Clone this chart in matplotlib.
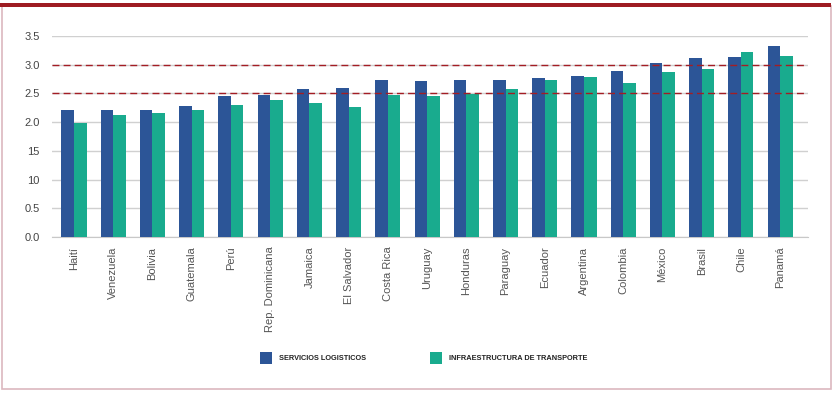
import matplotlib.pyplot as plt
import numpy as np
from matplotlib.patches import Rectangle

paises = ["Haití", "Venezuela", "Bolivia", "Guatemala", "Perú", "Rep. Dominicana",
          "Jamaica", "El Salvador", "Costa Rica", "Uruguay", "Honduras", "Paraguay",
          "Ecuador", "Argentina", "Colombia", "México", "Brasil", "Chile", "Panamá"]
servicios = [2.21, 2.21, 2.21, 2.28, 2.46, 2.48, 2.57, 2.59, 2.74, 2.72, 2.73, 2.74,
             2.77, 2.81, 2.89, 3.03, 3.11, 3.13, 3.32]
infraestructura = [1.99, 2.12, 2.16, 2.21, 2.30, 2.38, 2.34, 2.27, 2.48, 2.46, 2.49, 2.57,
                   2.73, 2.79, 2.68, 2.88, 2.93, 3.23, 3.16]
ytick_vals = [0.0, 0.5, 1.0, 1.5, 2.0, 2.5, 3.0, 3.5]
ytick_labels = ["0.0", "0.5", "10", "15", "2.0", "2.5", "3.0", "3.5"]
series_names = ["SERVICIOS LOGISTICOS", "INFRAESTRUCTURA DE TRANSPORTE"]

azul = "#2c5597"
verde = "#19ab8e"
rojo = "#a31d24"

fig = plt.figure(figsize=(8.33, 3.96), dpi=100)

# frame: dark red top band, pink thin border
fig.patches.append(Rectangle((2 / 833, 1 - 389 / 396), 829 / 833, (389 - 6) / 396,
                             transform=fig.transFigure, fill=False,
                             edgecolor="#dcb8bf", linewidth=1.2))
fig.patches.append(Rectangle((0.0, 1 - 7 / 396), 831 / 833, 4 / 396,
                             transform=fig.transFigure, facecolor="#9e1c22",
                             edgecolor="none"))

ax = fig.add_axes([52 / 833, 1 - 237 / 396, (808 - 52) / 833, (237 - 36) / 396])
x = np.arange(len(paises))
w = 0.32
ax.bar(x - w / 2, servicios, width=w, color=azul, zorder=3)
ax.bar(x + w / 2, infraestructura, width=w, color=verde, zorder=3)

ax.set_xlim(-0.56, 18.71)
ax.set_ylim(0, 3.5)
ax.set_yticks(ytick_vals)
ax.set_yticklabels(ytick_labels)
ax.yaxis.grid(True, color="#d0d0d0", linewidth=1.0, zorder=0)
for v in (2.5, 3.0):
    ax.axhline(v, color=rojo, linestyle=(0, (5, 3)), linewidth=1.0, zorder=4)
for s in ("top", "right", "left"):
    ax.spines[s].set_visible(False)
ax.spines["bottom"].set_color("#c8c8c8")
ax.tick_params(axis="y", length=0, pad=9, labelsize=8, labelcolor="#444444")
ax.tick_params(axis="x", length=0, pad=7, labelsize=8, labelcolor="#555555")
ax.set_xticks(x)
ax.set_xticklabels(paises, rotation=90, fontfamily="Liberation Sans")
for lab in ax.get_yticklabels():
    lab.set_fontfamily("Liberation Sans")

# legend
fig.patches.append(Rectangle((260 / 833, 1 - 364 / 396), 12 / 833, 12 / 396,
                             transform=fig.transFigure, facecolor=azul, edgecolor="none"))
fig.patches.append(Rectangle((430 / 833, 1 - 364 / 396), 12 / 833, 12 / 396,
                             transform=fig.transFigure, facecolor=verde, edgecolor="none"))
fig.text(279 / 833, 1 - 358 / 396, series_names[0], fontsize=5.3, fontweight="bold",
         family="Liberation Sans", color="#222222", va="center")
fig.text(449 / 833, 1 - 358 / 396, series_names[1], fontsize=5.3, fontweight="bold",
         family="Liberation Sans", color="#222222", va="center")

fig.savefig("out.png", dpi=100, facecolor="white")
